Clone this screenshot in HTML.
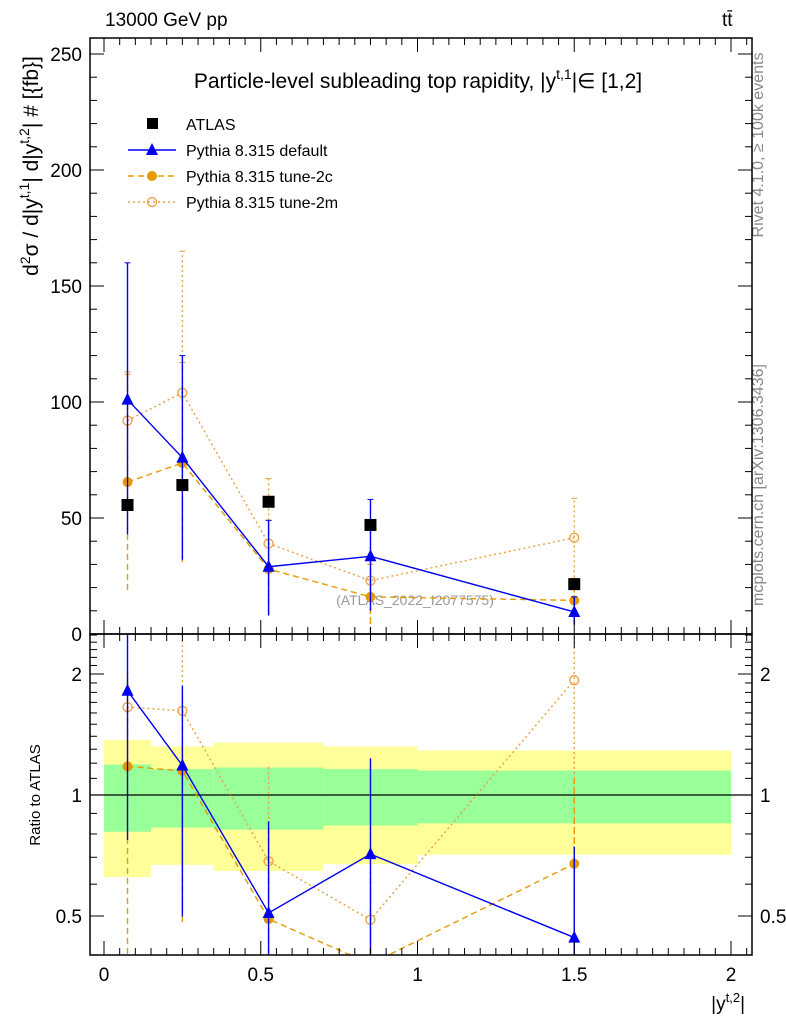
<!DOCTYPE html>
<html><head><meta charset="utf-8"><style>
body{margin:0;background:#fff;}
svg{font-family:"Liberation Sans",sans-serif;}
</style></head><body>
<svg id="c" width="786" height="1024" viewBox="0 0 786 1024" xmlns="http://www.w3.org/2000/svg">
<text x="105" y="26" font-size="19">13000 GeV pp</text>
<text x="722" y="26" font-size="19">tt̄</text>
<text x="418" y="88" font-size="21" text-anchor="middle">Particle-level subleading top rapidity, |y<tspan dy="-9" font-size="14">t,1</tspan><tspan dy="9">|∈ [1,2]</tspan></text>
<text transform="translate(38,166) rotate(-90)" font-size="21" text-anchor="middle">d<tspan dy="-8" font-size="14">2</tspan><tspan dy="8">σ / d|y</tspan><tspan dy="-9" font-size="14">t,1</tspan><tspan dy="9">| d|y</tspan><tspan dy="-9" font-size="14">t,2</tspan><tspan dy="9">| # [{fb}]</tspan></text>
<text transform="translate(40,795) rotate(-90)" font-size="15" text-anchor="middle">Ratio to ATLAS</text>
<text x="745" y="1010" font-size="19" text-anchor="end">|y<tspan dy="-8" font-size="13">t,2</tspan><tspan dy="8">|</tspan></text>
<text transform="translate(763,145) rotate(-90)" font-size="16" fill="#888" text-anchor="middle">Rivet 4.1.0, ≥ 100k events</text>
<text transform="translate(763,485) rotate(-90)" font-size="16" fill="#888" text-anchor="middle">mcplots.cern.ch [arXiv:1306.3436]</text>
<text x="415" y="605" font-size="14" fill="#999" text-anchor="middle">(ATLAS_2022_I2077575)</text>
<g id="legend"></g>
<g id="g"></g>
</svg>
<script>
const binEdges=[0,0.15,0.35,0.7,1.0,2.0];
const xPoints=[0.075,0.25,0.525,0.85,1.5];
const atlas=[55.6,64.2,57,47,21.5];
const pDefault=[101,76,29,33.5,9.5];
const pDefaultLo=[43,32,8,10,4];
const pDefaultHi=[160,120,49,58,16];
const p2c=[65.5,73.7,28,16,14.5];
const p2cLo=[19,31,8,0,5];
const p2cHi=[112,117,49,30,24];
const p2m=[92,104,39,23,41.5];
const p2mLo=[70,31,8,0,5];
const p2mHi=[113,165,67,45,58.5];
const yellowHi=[1.37,1.32,1.35,1.32,1.29];
const yellowLo=[0.625,0.67,0.647,0.673,0.71];
const greenHi=[1.19,1.16,1.17,1.16,1.15];
const greenLo=[0.81,0.83,0.82,0.84,0.85];
const xTicks=[0,0.5,1,1.5,2];
const yTicks=[0,50,100,150,200,250];
const rTicks=[0.5,1,2];

const NS="http://www.w3.org/2000/svg";
const g=document.getElementById('g');
const L=90,R=752,T=38,M=634,B=955;
const X=v=>104+v*313.5;
const Y=v=>634-v*2.32;
const RY=v=>795-121*Math.log2(v);
function el(tag,a,p){const e=document.createElementNS(NS,tag);for(const k in a)e.setAttribute(k,a[k]);(p||g).appendChild(e);return e;}
function clampR(v){return Math.max(0.38,Math.min(2.6,v));}
for(let i=0;i<5;i++){
 let e=el('rect',{x:X(binEdges[i]),y:RY(yellowHi[i]),width:X(binEdges[i+1])-X(binEdges[i]),height:RY(yellowLo[i])-RY(yellowHi[i]),fill:'#ffff99'});
 
 
 e=el('rect',{x:X(binEdges[i]),y:RY(greenHi[i]),width:X(binEdges[i+1])-X(binEdges[i]),height:RY(greenLo[i])-RY(greenHi[i]),fill:'#99ff99'});
 
 
}
el('line',{x1:L,x2:R,y1:RY(1),y2:RY(1),stroke:'#000','stroke-width':1.3});
const defs=el('defs',{});
el('clipPath',{id:'cm'},defs);el('rect',{x:L,y:T,width:R-L,height:M-T},defs.lastChild);
el('clipPath',{id:'cr'},defs);el('rect',{x:L,y:M,width:R-L,height:B-M},defs.lastChild);
const gm=el('g',{'clip-path':'url(#cm)'});const gr=el('g',{'clip-path':'url(#cr)'});
const series=[
 {v:p2m,lo:p2mLo,hi:p2mHi,c:'#e8a040',dash:'2,3',mk:'open',name:'tune-2m'},
 {v:p2c,lo:p2cLo,hi:p2cHi,c:'#e69a00',dash:'6,4',mk:'dot',name:'tune-2c'},
 {v:pDefault,lo:pDefaultLo,hi:pDefaultHi,c:'#0000ee',dash:'',mk:'tri',name:'default'}
];
function marker(p,s,x,y){
 let e;
 if(s.mk=='tri')e=el('polygon',{points:`${x},${y-7} ${x-6},${y+5} ${x+6},${y+5}`,fill:s.c},p);
 else if(s.mk=='dot')e=el('circle',{cx:x,cy:y,r:5,fill:s.c},p);
 else e=el('circle',{cx:x,cy:y,r:4.5,fill:'none',stroke:s.c,'stroke-width':1.3},p);
 
 
}
series.forEach(s=>{
 const pts=xPoints.map((x,i)=>X(x)+','+Y(s.v[i])).join(' ');
 let e=el('polyline',{points:pts,fill:'none',stroke:s.c,'stroke-width':1.4,'stroke-dasharray':s.dash},gm);
 
 
 const rp=xPoints.map((x,i)=>X(x)+','+RY(clampR(s.v[i]/atlas[i]))).join(' ');
 e=el('polyline',{points:rp,fill:'none',stroke:s.c,'stroke-width':1.4,'stroke-dasharray':s.dash},gr);
 
 
 xPoints.forEach((x,i)=>{
  const xx=X(x);
  el('line',{x1:xx,x2:xx,y1:Y(s.lo[i]),y2:Y(s.hi[i]),stroke:s.c,'stroke-width':1.4,'stroke-dasharray':s.dash},gm);
  el('line',{x1:xx-3,x2:xx+3,y1:Y(s.hi[i]),y2:Y(s.hi[i]),stroke:s.c},gm);
  el('line',{x1:xx,x2:xx,y1:RY(clampR(s.lo[i]/atlas[i])),y2:RY(clampR(s.hi[i]/atlas[i])),stroke:s.c,'stroke-width':1.4,'stroke-dasharray':s.dash},gr);
  marker(gm,s,xx,Y(s.v[i]));
  marker(gr,s,xx,RY(clampR(s.v[i]/atlas[i])));
 });
});
xPoints.forEach((x,i)=>{
 const e=el('rect',{x:X(x)-6,y:Y(atlas[i])-6,width:12,height:12,fill:'#000'},gm);
 
 
});
el('rect',{x:L,y:T,width:R-L,height:M-T,fill:'none',stroke:'#000','stroke-width':1.5});
el('rect',{x:L,y:M,width:R-L,height:B-M,fill:'none',stroke:'#000','stroke-width':1.5});
for(let k=-0.04;k<=2.07;k+=0.05){
 const v=Math.round(k*20)/20;if(v<-0.045||v>2.067)continue;
 const major=Math.abs(v*2-Math.round(v*2))<1e-6;const len=major?14:7;const xx=X(v);
 [[M,-1],[T,1],[B,-1],[M,1]].forEach(([y0,d])=>el('line',{x1:xx,x2:xx,y1:y0,y2:y0+d*len,stroke:'#000'}));
}
xTicks.forEach(v=>{const t=el('text',{x:X(v),y:B+26,'font-size':19,'text-anchor':'middle'});t.textContent=v;});
for(let v=0;v<=250;v+=10){const major=v%50==0;const len=major?14:7;
 el('line',{x1:L,x2:L+len,y1:Y(v),y2:Y(v),stroke:'#000'});el('line',{x1:R,x2:R-len,y1:Y(v),y2:Y(v),stroke:'#000'});}
yTicks.forEach(v=>{const t=el('text',{x:L-8,y:Y(v)+7,'font-size':19,'text-anchor':'end'});t.textContent=v;});
[0.4,0.5,0.6,0.7,0.8,0.9,1,2,1.1,1.2,1.3,1.4,1.5,1.6,1.7,1.8,1.9,2.1,2.2,2.3,2.4,2.5].forEach(v=>{const major=rTicks.includes(v);const len=major?14:7;const y=RY(v);if(y<M||y>B)return;
 el('line',{x1:L,x2:L+len,y1:y,y2:y,stroke:'#000'});el('line',{x1:R,x2:R-len,y1:y,y2:y,stroke:'#000'});});
rTicks.forEach(v=>{let t=el('text',{x:L-8,y:RY(v)+7,'font-size':19,'text-anchor':'end'});t.textContent=v;
 t=el('text',{x:R+8,y:RY(v)+7,'font-size':19});t.textContent=v;});
const lg=document.getElementById('legend');
const items=[['ATLAS',null],['Pythia 8.315 default',series[2]],['Pythia 8.315 tune-2c',series[1]],['Pythia 8.315 tune-2m',series[0]]];
items.forEach((it,i)=>{const y=124+i*26;
 if(!it[1]){el('rect',{x:147,y:y-6,width:11,height:11,fill:'#000'},lg);}
 else{el('line',{x1:128,x2:176,y1:y,y2:y,stroke:it[1].c,'stroke-width':1.4,'stroke-dasharray':it[1].dash},lg);marker(lg,it[1],152,y);}
 const t=el('text',{x:186,y:y+6,'font-size':16},lg);t.textContent=it[0];
 
 
});
</script>
</body></html>
